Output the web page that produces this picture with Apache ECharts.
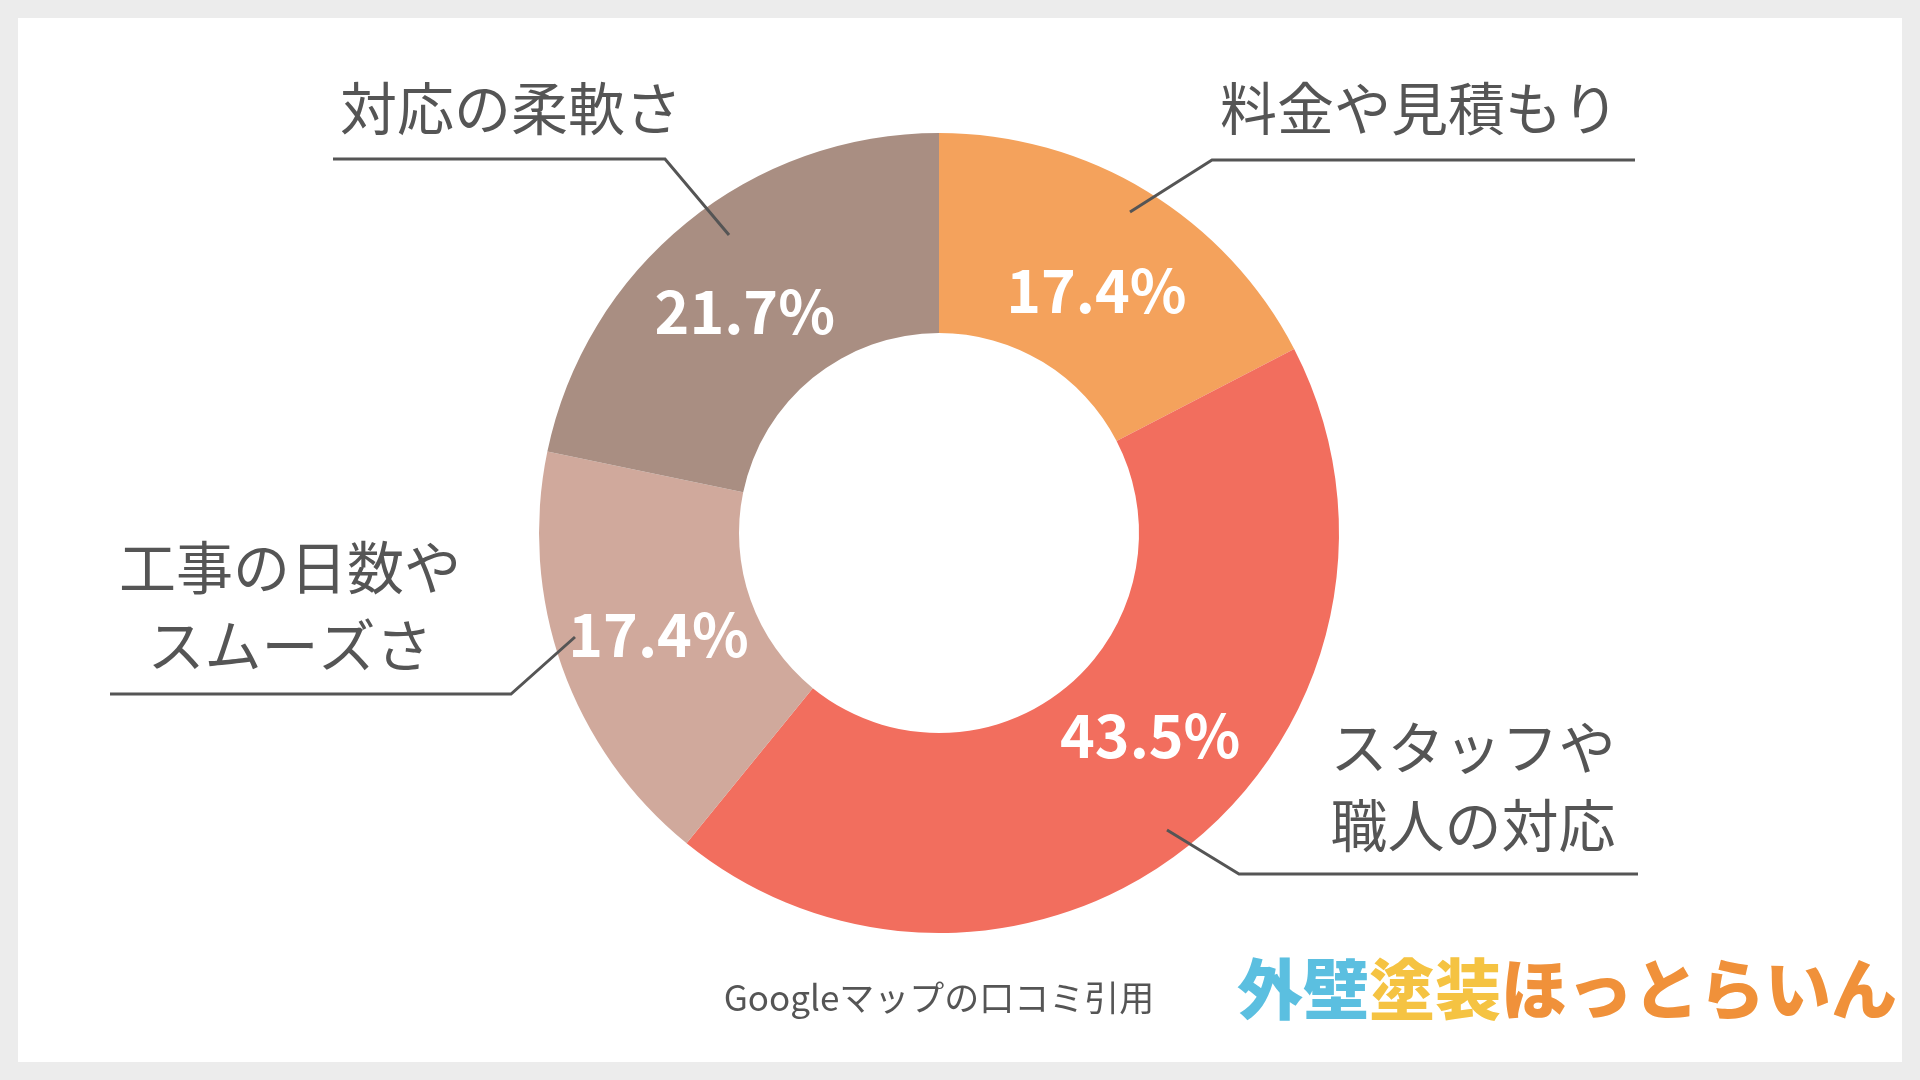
<!DOCTYPE html><html><head><meta charset="utf-8">
<script src="https://cdn.jsdelivr.net/npm/echarts@6/dist/echarts.min.js"></script>
<style>html,body{margin:0;background:#ececec}#c{width:1920px;height:1080px}</style></head><body><div id="c"></div><script>
const categories=['料金や見積もり','スタッフや\n職人の対応','工事の日数や\nスムーズさ','対応の柔軟さ'];
const values=[4,10,4,5];
const percentLabels=['17.4%','43.5%','17.4%','21.7%'];
const colors=['#F4A25C','#F26E5E','#D0A99C','#A98E82'];
const F='"Noto Sans CJK JP","Noto Sans",sans-serif';
const chart=echarts.init(document.getElementById('c'));
const txt=(x,y,t,align)=>({type:'text',z:100,x:x,y:y,style:{text:t,font:'400 57px '+F,fill:'#555',align:align,verticalAlign:'middle',lineHeight:78}});
const ln=(pts)=>({type:'polyline',z:100,shape:{points:pts},style:{stroke:'#555',lineWidth:3,fill:null}});
chart.setOption({
 backgroundColor:'#ececec',
 graphic:[
  {type:'rect',z:-10,shape:{x:18,y:18,width:1884,height:1044},style:{fill:'#fff'}},
  txt(340,108,categories[3],'left'),ln([[333,159],[665,159],[729,235]]),
  txt(1619,108,categories[0],'right'),ln([[1635,160],[1212,160],[1130,212]]),
  txt(290,606,categories[2],'center'),ln([[110,694],[511,694],[575,637]]),
  txt(1473,786,categories[1],'center'),ln([[1167,830],[1239,874],[1638,874]]),
  {type:'text',z:100,x:939,y:998,style:{text:'Googleマップの口コミ引用',font:'400 35px '+F,fill:'#555',align:'center',verticalAlign:'middle'}},
  {type:'text',z:100,x:1237,y:989,style:{text:'{a|外壁}{b|塗装}{c|ほっとらいん}',verticalAlign:'middle',rich:{
    a:{font:'900 66px '+F,fill:'#5BBFE0'},
    b:{font:'900 66px '+F,fill:'#F5C342'},
    c:{font:'900 66px '+F,fill:'#F0913A'}}}}
 ],
 series:[{type:'pie',center:[939,533],radius:[200,400],startAngle:90,clockwise:true,
  color:colors,silent:true,
  label:{show:true,position:'inside',color:'#fff',fontSize:59,fontWeight:'bold',fontFamily:F,
    formatter:p=>percentLabels[p.dataIndex]},
  labelLayout:p=>{const o=[[0,16],[20,-32],[5,0],[-3,14]][p.dataIndex];return {dx:o[0],dy:o[1]};},
  labelLine:{show:false},
  data:categories.map((c,i)=>({name:c,value:values[i]}))}]
});
</script></body></html>
